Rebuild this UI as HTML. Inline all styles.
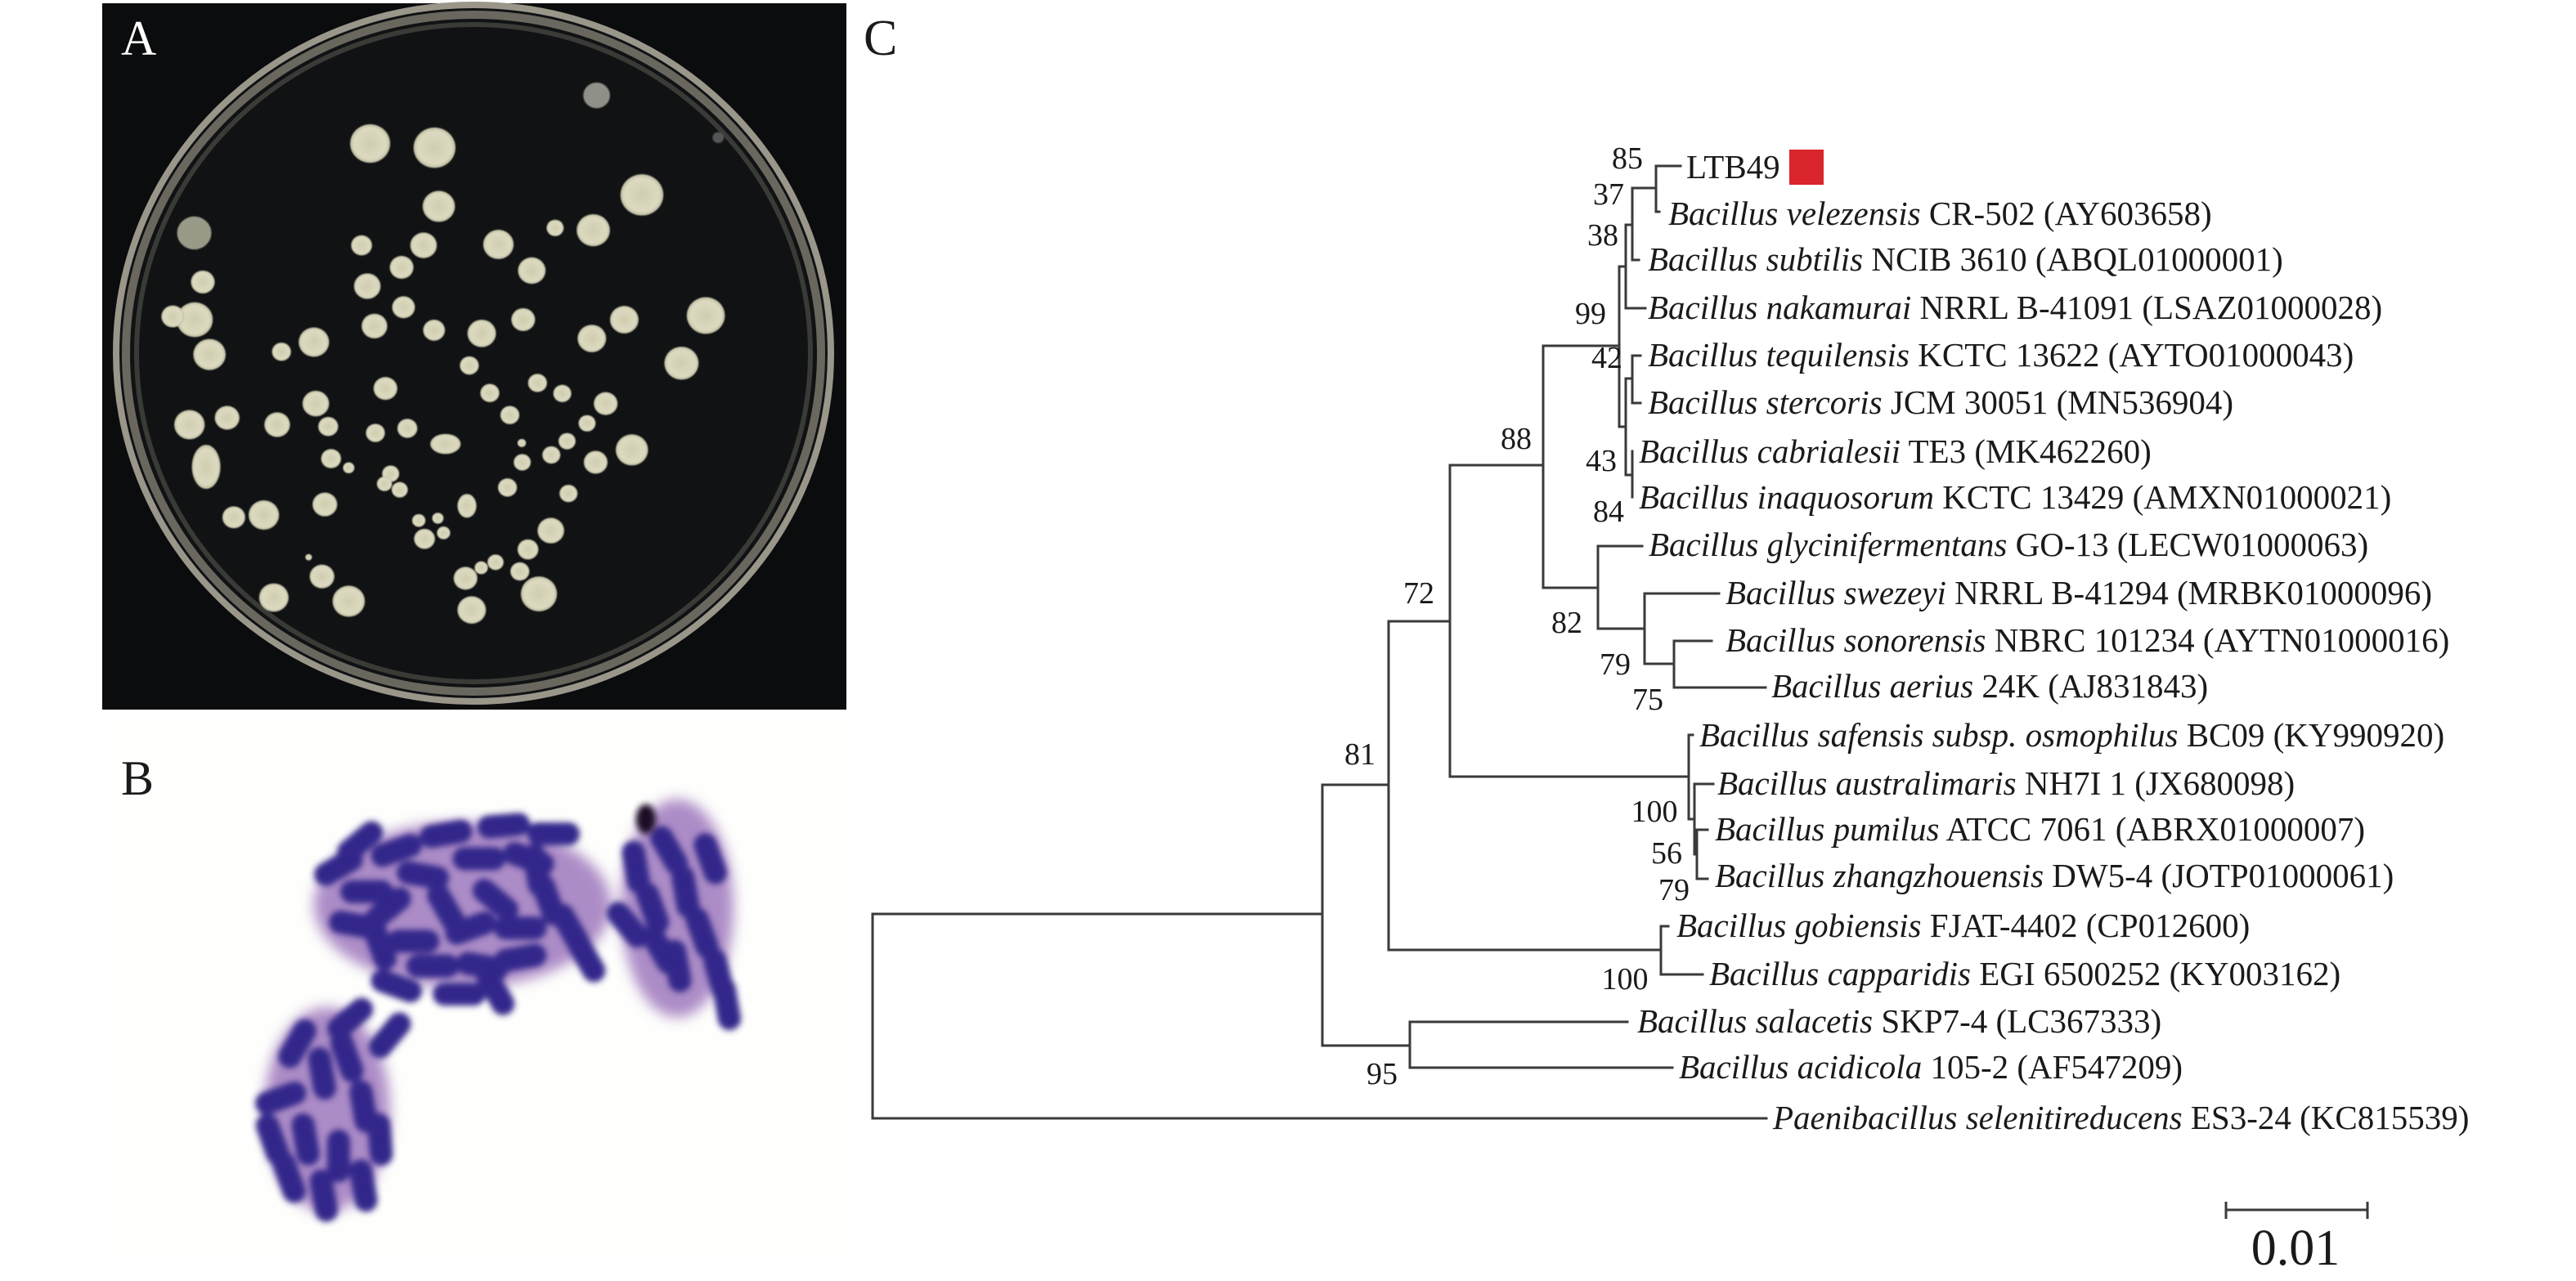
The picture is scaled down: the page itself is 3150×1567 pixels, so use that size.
<!DOCTYPE html>
<html><head><meta charset="utf-8">
<style>
html,body{margin:0;padding:0;background:#fff;}
svg{display:block;}
text{font-family:"Liberation Serif","Times New Roman",serif;fill:#1a1a1a;}
.t{font-size:41px;}
.n{font-size:38px;}
.i{font-style:italic;}
</style></head><body>
<svg width="3150" height="1567" viewBox="0 0 3150 1567" xmlns="http://www.w3.org/2000/svg">
<defs>
<filter id="bl2"><feGaussianBlur stdDeviation="1.2"/></filter>
<filter id="rb" x="-50%" y="-50%" width="200%" height="200%"><feGaussianBlur stdDeviation="1.8"/></filter>
<filter id="halo" x="-50%" y="-50%" width="200%" height="200%"><feGaussianBlur stdDeviation="4"/></filter>
<radialGradient id="col" cx="50%" cy="50%" r="50%"><stop offset="0" stop-color="#cfcdb0"/><stop offset="0.8" stop-color="#dcdac0"/><stop offset="1" stop-color="#bdbba0"/></radialGradient>
<rect id="rod" x="-16" y="-7" width="32" height="14" rx="7"/>
</defs>
<!-- Panel A -->
<rect x="125" y="4" width="910" height="864" fill="#0b0c0d"/>
<ellipse cx="579" cy="432" rx="437" ry="426" fill="#101214" stroke="#9a968a" stroke-width="8"/>
<ellipse cx="579" cy="432" rx="425" ry="414" fill="none" stroke="#6a675e" stroke-width="10"/>
<ellipse cx="579" cy="432" rx="412" ry="402" fill="none" stroke="#3a3a36" stroke-width="6"/>
<g transform="translate(125,0) scale(0.583,0.561)" fill="url(#col)" filter="url(#bl2)">
<circle cx="1037" cy="208" r="28" fill="#8f9088"/>
<circle cx="562" cy="313" r="42"/><circle cx="697" cy="322" r="44"/><circle cx="1292" cy="300" r="12" fill="#555"/>
<circle cx="1132" cy="425" r="45"/><circle cx="706" cy="450" r="34"/><circle cx="193" cy="508" r="36" fill="#9a9a88"/>
<circle cx="1030" cy="502" r="35"/><circle cx="950" cy="497" r="18"/><circle cx="544" cy="535" r="22"/>
<circle cx="674" cy="535" r="28"/><circle cx="831" cy="533" r="32"/><circle cx="628" cy="583" r="25"/>
<circle cx="901" cy="590" r="29"/><circle cx="211" cy="615" r="25"/><circle cx="556" cy="624" r="28"/>
<circle cx="632" cy="670" r="24"/><circle cx="1095" cy="697" r="30"/><circle cx="1266" cy="688" r="40"/>
<circle cx="883" cy="697" r="25"/><circle cx="194" cy="697" r="38"/><circle cx="148" cy="690" r="24"/>
<circle cx="571" cy="711" r="27"/><circle cx="696" cy="720" r="23"/><circle cx="796" cy="727" r="30"/>
<circle cx="1027" cy="738" r="30"/><circle cx="444" cy="746" r="32"/><circle cx="376" cy="767" r="20"/>
<circle cx="225" cy="773" r="34"/><circle cx="1215" cy="792" r="36"/><circle cx="770" cy="797" r="20"/>
<circle cx="594" cy="847" r="25"/><circle cx="913" cy="835" r="20"/><circle cx="965" cy="858" r="19"/>
<circle cx="813" cy="857" r="20"/><circle cx="1056" cy="880" r="25"/><circle cx="448" cy="880" r="28"/>
<circle cx="183" cy="926" r="32"/><circle cx="262" cy="911" r="26"/><circle cx="367" cy="926" r="27"/>
<circle cx="474" cy="930" r="21"/><circle cx="573" cy="944" r="20"/><circle cx="640" cy="934" r="21"/>
<circle cx="855" cy="905" r="20"/><circle cx="1017" cy="923" r="18"/><ellipse cx="720" cy="968" rx="32" ry="22"/>
<circle cx="975" cy="962" r="18"/><circle cx="1111" cy="981" r="34"/><circle cx="880" cy="966" r="9"/>
<circle cx="480" cy="1000" r="21"/><circle cx="942" cy="992" r="19"/><circle cx="1035" cy="1008" r="25"/>
<circle cx="881" cy="1008" r="18"/><ellipse cx="218" cy="1018" rx="30" ry="48"/><circle cx="517" cy="1020" r="12"/>
<circle cx="605" cy="1033" r="18"/><circle cx="592" cy="1055" r="16"/><circle cx="624" cy="1068" r="17"/>
<circle cx="850" cy="1063" r="20"/><circle cx="978" cy="1076" r="19"/><circle cx="467" cy="1100" r="26"/>
<ellipse cx="765" cy="1103" rx="20" ry="26"/><circle cx="276" cy="1128" r="24"/><circle cx="339" cy="1123" r="32"/>
<circle cx="664" cy="1135" r="14"/><circle cx="704" cy="1130" r="12"/><circle cx="941" cy="1157" r="28"/>
<circle cx="676" cy="1175" r="22"/><circle cx="716" cy="1162" r="14"/><circle cx="893" cy="1198" r="22"/>
<circle cx="433" cy="1215" r="7"/><circle cx="461" cy="1257" r="26"/><circle cx="825" cy="1226" r="17"/>
<circle cx="795" cy="1238" r="14"/><circle cx="762" cy="1261" r="25"/><circle cx="876" cy="1246" r="20"/>
<circle cx="360" cy="1303" r="31"/><circle cx="517" cy="1311" r="34"/><circle cx="916" cy="1295" r="38"/>
<circle cx="775" cy="1330" r="30"/>
</g>
<text x="148" y="67" style="font-size:60px;fill:#fff">A</text>
<!-- Panel B -->
<rect x="125" y="880" width="910" height="660" fill="#fefefc"/>
<g transform="scale(2.02)">
<g fill="#8a5cb0" opacity="0.7" filter="url(#halo)">
<ellipse cx="280" cy="548" rx="90" ry="50"/><ellipse cx="410" cy="550" rx="34" ry="66"/><ellipse cx="198" cy="672" rx="38" ry="62"/>
</g>
<g fill="#33278a" filter="url(#rb)">
<use href="#rod" transform="translate(205,525) rotate(-30)"/>
<use href="#rod" transform="translate(222,540)"/>
<use href="#rod" transform="translate(240,515) rotate(-20)"/>
<use href="#rod" transform="translate(256,530) rotate(10)"/>
<use href="#rod" transform="translate(270,505) rotate(-10)"/>
<use href="#rod" transform="translate(290,520)"/>
<use href="#rod" transform="translate(305,500) rotate(-5)"/>
<use href="#rod" transform="translate(320,520) rotate(20)"/>
<use href="#rod" transform="translate(335,505)"/>
<use href="#rod" transform="translate(215,560) rotate(10)"/>
<use href="#rod" transform="translate(235,550) rotate(-40)"/>
<use href="#rod" transform="translate(250,570)"/>
<use href="#rod" transform="translate(270,550) rotate(60)"/>
<use href="#rod" transform="translate(285,562) rotate(-20)"/>
<use href="#rod" transform="translate(300,545) rotate(40)"/>
<use href="#rod" transform="translate(315,562)"/>
<use href="#rod" transform="translate(332,545) rotate(70)"/>
<use href="#rod" transform="translate(345,562) rotate(60)"/>
<use href="#rod" transform="translate(355,580) rotate(60)"/>
<use href="#rod" transform="translate(262,585)"/>
<use href="#rod" transform="translate(292,585) rotate(10)"/>
<use href="#rod" transform="translate(315,580) rotate(-10)"/>
<use href="#rod" transform="translate(240,597) rotate(20)"/>
<use href="#rod" transform="translate(278,602)"/>
<use href="#rod" transform="translate(325,527) rotate(80)"/>
<use href="#rod" transform="translate(230,572) rotate(70)"/>
<use href="#rod" transform="translate(300,600) rotate(60)"/>
<use href="#rod" transform="translate(218,510) rotate(-40)"/>
<use href="#rod" transform="translate(385,525) rotate(80)"/>
<use href="#rod" transform="translate(395,550) rotate(70)"/>
<use href="#rod" transform="translate(405,515) rotate(60)"/>
<use href="#rod" transform="translate(415,540) rotate(80)"/>
<use href="#rod" transform="translate(425,565) rotate(70)"/>
<use href="#rod" transform="translate(435,590) rotate(75)"/>
<use href="#rod" transform="translate(410,585) rotate(80)"/>
<use href="#rod" transform="translate(400,575) rotate(60)"/>
<use href="#rod" transform="translate(380,560) rotate(50)"/>
<use href="#rod" transform="translate(430,520) rotate(70)"/>
<use href="#rod" transform="translate(440,608) rotate(80)"/>
<use href="#rod" transform="translate(180,632) rotate(-60)"/>
<use href="#rod" transform="translate(195,650) rotate(80)"/>
<use href="#rod" transform="translate(170,665) rotate(-20)"/>
<use href="#rod" transform="translate(210,640) rotate(70)"/>
<use href="#rod" transform="translate(220,670) rotate(80)"/>
<use href="#rod" transform="translate(185,690) rotate(80)"/>
<use href="#rod" transform="translate(205,700) rotate(90)"/>
<use href="#rod" transform="translate(175,713) rotate(70)"/>
<use href="#rod" transform="translate(220,718) rotate(80)"/>
<use href="#rod" transform="translate(196,724) rotate(80)"/>
<use href="#rod" transform="translate(165,690) rotate(70)"/>
<use href="#rod" transform="translate(230,690) rotate(85)"/>
<use href="#rod" transform="translate(212,617) rotate(-40)"/>
<use href="#rod" transform="translate(236,627) rotate(-50)"/>
</g>
<ellipse cx="391" cy="496" rx="6" ry="9" fill="#1a1028" filter="url(#rb)"/>
</g>
<text x="148" y="972" style="font-size:60px">B</text>
<!-- Panel C -->
<text x="1056" y="67" style="font-size:62px">C</text>
<g stroke="#3a3a3a" stroke-width="3" fill="none" stroke-linecap="square">
<path d="M1067,1118 V1368 H2160"/>
<path d="M1067,1118 H1617"/>
<path d="M1617,960 V1279"/>
<path d="M1617,960 H1698"/>
<path d="M1617,1279 H1724"/>
<path d="M1724,1250 V1306 M1724,1250 H1990 M1724,1306 H2045"/>
<path d="M1698,760 V1162 M1698,760 H1773 M1698,1162 H2031"/>
<path d="M2031,1133 V1192 M2031,1133 H2040 M2031,1192 H2082"/>
<path d="M1773,569 V950 M1773,569 H1887 M1773,950 H2065"/>
<path d="M2065,899 V1002 M2065,899 H2070 M2065,1002 H2072"/>
<path d="M2072,959 V1045 M2072,959 H2095 M2072,1045 H2075"/>
<path d="M2075,1015 V1075 M2075,1015 H2088 M2075,1075 H2088"/>
<path d="M1887,423 V719 M1887,423 H1980 M1887,719 H1954"/>
<path d="M1954,668 V769 M1954,668 H2008 M1954,769 H2011"/>
<path d="M2011,726 V812 M2011,726 H2102 M2011,812 H2047"/>
<path d="M2047,784 V841 M2047,784 H2093 M2047,841 H2159"/>
<path d="M1980,326 V522 M1980,326 H1988 M1980,522 H1988"/>
<path d="M1988,275 V377 M1988,275 H1996 M1988,377 H2012"/>
<path d="M1996,230 V318 M1996,230 H2025 M1996,318 H2004"/>
<path d="M2025,203 V259 M2025,203 H2055 M2025,259 H2029"/>
<path d="M1988,463 V581 M1988,463 H1996 M1988,581 H1996"/>
<path d="M1996,435 V493 M1996,435 H2006 M1996,493 H2006"/>
<path d="M1996,552 V608"/>
</g>
<rect x="2188" y="183" width="42" height="43" fill="#d9252b"/>
<g class="t">
<text x="2062" y="218">LTB49</text>
<text x="2040" y="275"><tspan class="i">Bacillus velezensis</tspan> CR-502 (AY603658)</text>
<text x="2015" y="331"><tspan class="i">Bacillus subtilis</tspan> NCIB 3610 (ABQL01000001)</text>
<text x="2015" y="390"><tspan class="i">Bacillus nakamurai</tspan> NRRL B-41091 (LSAZ01000028)</text>
<text x="2015" y="448"><tspan class="i">Bacillus tequilensis</tspan> KCTC 13622 (AYTO01000043)</text>
<text x="2015" y="506"><tspan class="i">Bacillus stercoris</tspan> JCM 30051 (MN536904)</text>
<text x="2004" y="566"><tspan class="i">Bacillus cabrialesii</tspan> TE3 (MK462260)</text>
<text x="2004" y="622"><tspan class="i">Bacillus inaquosorum</tspan> KCTC 13429 (AMXN01000021)</text>
<text x="2016" y="680"><tspan class="i">Bacillus glycinifermentans</tspan> GO-13 (LECW01000063)</text>
<text x="2110" y="739"><tspan class="i">Bacillus swezeyi</tspan> NRRL B-41294 (MRBK01000096)</text>
<text x="2110" y="797"><tspan class="i">Bacillus sonorensis</tspan> NBRC 101234 (AYTN01000016)</text>
<text x="2166" y="853"><tspan class="i">Bacillus aerius</tspan> 24K (AJ831843)</text>
<text x="2078" y="913"><tspan class="i">Bacillus safensis subsp. osmophilus</tspan> BC09 (KY990920)</text>
<text x="2100" y="972"><tspan class="i">Bacillus australimaris</tspan> NH7I 1 (JX680098)</text>
<text x="2097" y="1028"><tspan class="i">Bacillus pumilus</tspan> ATCC 7061 (ABRX01000007)</text>
<text x="2097" y="1085"><tspan class="i">Bacillus zhangzhouensis</tspan> DW5-4 (JOTP01000061)</text>
<text x="2050" y="1146"><tspan class="i">Bacillus gobiensis</tspan> FJAT-4402 (CP012600)</text>
<text x="2090" y="1205"><tspan class="i">Bacillus capparidis</tspan> EGI 6500252 (KY003162)</text>
<text x="2002" y="1263"><tspan class="i">Bacillus salacetis</tspan> SKP7-4 (LC367333)</text>
<text x="2053" y="1319"><tspan class="i">Bacillus acidicola</tspan> 105-2 (AF547209)</text>
<text x="2168" y="1381"><tspan class="i">Paenibacillus selenitireducens</tspan> ES3-24 (KC815539)</text>
</g>
<g class="n" text-anchor="middle">
<text x="1990" y="206">85</text>
<text x="1967" y="250">37</text>
<text x="1960" y="300">38</text>
<text x="1945" y="396">99</text>
<text x="1965" y="450">42</text>
<text x="1854" y="549">88</text>
<text x="1958" y="576">43</text>
<text x="1967" y="638">84</text>
<text x="1735" y="738">72</text>
<text x="1916" y="774">82</text>
<text x="1975" y="825">79</text>
<text x="2015" y="868">75</text>
<text x="1663" y="935">81</text>
<text x="2023" y="1005">100</text>
<text x="2038" y="1056">56</text>
<text x="2047" y="1101">79</text>
<text x="1987" y="1210">100</text>
<text x="1690" y="1326">95</text>
</g>
<g stroke="#3a3a3a" stroke-width="3"><path d="M2722,1480 H2895 M2722,1470 V1491 M2895,1470 V1491"/></g>
<text x="2807" y="1547" text-anchor="middle" style="font-size:62px">0.01</text>
</svg>
</body></html>
